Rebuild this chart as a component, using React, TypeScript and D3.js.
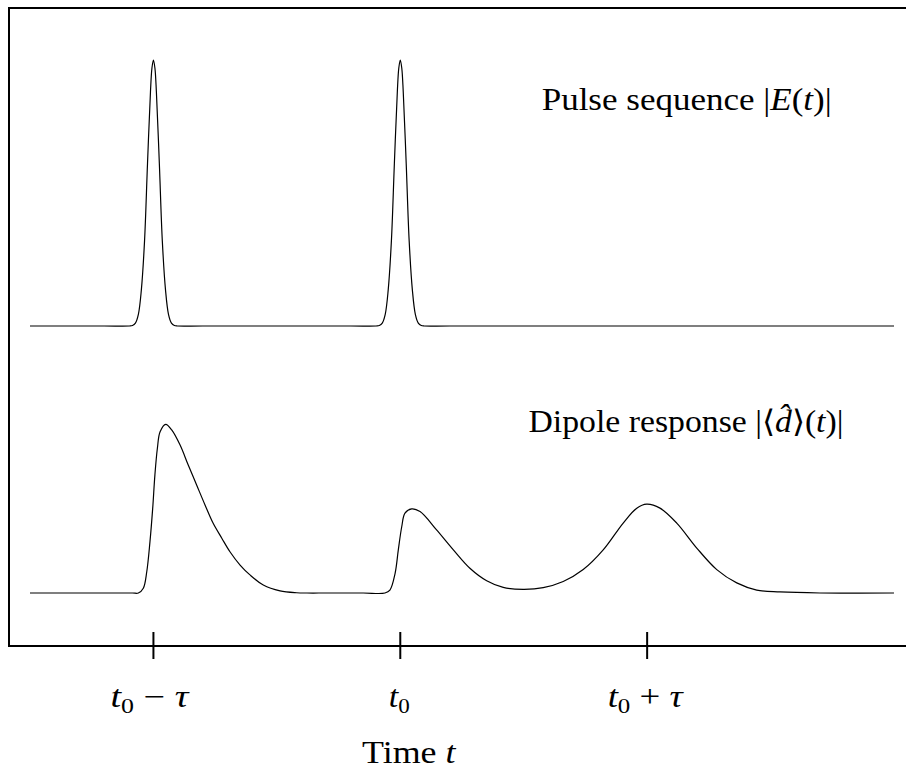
import React from "react";
import * as d3 from "d3";

// Time axis: tau = 1, t0 = 0
const tickValues = [-1, 0, 1];
const tickLabels = [
  { main: "t", sub: "0", rest: " − ", greek: "τ" },
  { main: "t", sub: "0", rest: "", greek: "" },
  { main: "t", sub: "0", rest: " + ", greek: "τ" },
];

// Pulse sequence |E(t)| (two identical short pulses)
const pulseT = [
  -1.5, -1.2, -1.097, -1.085, -1.073, -1.061, -1.049, -1.036, -1.024, -1.012, -1.006, -1.0,
  -0.994, -0.988, -0.976, -0.964, -0.951, -0.939, -0.927, -0.915, -0.903, -0.8,
  -0.2, -0.097, -0.085, -0.073, -0.061, -0.049, -0.036, -0.024, -0.012, -0.006, 0.0,
  0.006, 0.012, 0.024, 0.036, 0.049, 0.061, 0.073, 0.085, 0.097, 0.2, 2.0,
];
const pulseE = [
  0, 0, 0, 0.002, 0.011, 0.044, 0.135, 0.32, 0.61, 0.88, 0.97, 1,
  0.97, 0.88, 0.61, 0.32, 0.135, 0.044, 0.011, 0.002, 0, 0,
  0, 0, 0.002, 0.011, 0.044, 0.135, 0.32, 0.61, 0.88, 0.97, 1,
  0.97, 0.88, 0.61, 0.32, 0.135, 0.044, 0.011, 0.002, 0, 0, 0,
];

// Dipole response |<d>(t)|
const dipoleT = [
  -1.5, -1.2, -1.085, -1.061, -1.041, -1.027, -1.014, -1.003, -0.994, -0.984, -0.973,
  -0.95, -0.926, -0.892, -0.859, -0.825, -0.791, -0.758, -0.723, -0.69, -0.649,
  -0.609, -0.555, -0.487, -0.42, -0.378, -0.3,
  -0.15, -0.062, -0.042, -0.021, -0.008, 0.006, 0.019, 0.046, 0.08, 0.147, 0.215, 0.282,
  0.35, 0.417, 0.498, 0.579, 0.66, 0.741, 0.822, 0.903, 0.958, 0.998, 1.052,
  1.12, 1.201, 1.282, 1.363, 1.444, 1.538, 1.7, 2.0,
];
const dipoleD = [
  0, 0, 0, 0, 0.018, 0.08, 0.193, 0.318, 0.444, 0.544, 0.606,
  0.634, 0.613, 0.556, 0.481, 0.406, 0.331, 0.262, 0.206, 0.155, 0.105,
  0.068, 0.03, 0.008, 0.001, 0, 0,
  0, 0, 0.011, 0.074, 0.162, 0.25, 0.3, 0.316, 0.306, 0.237, 0.162, 0.093,
  0.046, 0.021, 0.014, 0.02, 0.043, 0.088, 0.162, 0.263, 0.319, 0.334, 0.319,
  0.263, 0.169, 0.088, 0.038, 0.011, 0.004, 0, 0,
];

const FONT = "Liberation Serif, serif";

export default function App() {
  const W = 906;
  const H = 773;
  const x = d3.scaleLinear().domain([-1.5, 2.0]).range([30, 894]);
  const yTop = d3.scaleLinear().domain([0, 1]).range([326, 60]);
  const yBot = d3.scaleLinear().domain([0, 1]).range([593, 327]);

  const pulseLine = d3
    .line<number>()
    .x((_, i) => x(pulseT[i]))
    .y((v) => yTop(v))
    .curve(d3.curveCatmullRom.alpha(0.5));
  const dipoleLine = d3
    .line<number>()
    .x((_, i) => x(dipoleT[i]))
    .y((v) => yBot(v))
    .curve(d3.curveCatmullRom.alpha(0.5));

  const axisY = 646;
  const labelOffsets = [-4, -1, -2];
  const labelWidths = [78, 21, 75];

  return (
    <svg
      width={W}
      height={H}
      style={{ position: "absolute", left: 0, top: 0, background: "#fff" }}
    >
      <rect x={0} y={0} width={W} height={H} fill="#fff" />
      {/* frame */}
      <line x1={9} y1={8} x2={906} y2={8} stroke="#000" strokeWidth={2} />
      <line x1={9} y1={7} x2={9} y2={647} stroke="#000" strokeWidth={2} />
      <line x1={8} y1={axisY} x2={906} y2={axisY} stroke="#000" strokeWidth={2} />
      {/* ticks */}
      {tickValues.map((t, i) => (
        <line
          key={"tk" + i}
          x1={x(t)}
          x2={x(t)}
          y1={632}
          y2={659}
          stroke="#000"
          strokeWidth={2}
        />
      ))}
      {/* curves */}
      <path d={pulseLine(pulseE) || ""} fill="none" stroke="#000" strokeWidth={1.2} />
      <path d={dipoleLine(dipoleD) || ""} fill="none" stroke="#000" strokeWidth={1.2} />

      {/* annotations */}
      <text
        x={541.7}
        y={110}
        fontFamily={FONT}
        fontSize={31}
        textLength={290}
        lengthAdjust="spacingAndGlyphs"
      >
        Pulse sequence |<tspan fontStyle="italic">E</tspan>(<tspan fontStyle="italic">t</tspan>)|
      </text>
      <text
        x={528.5}
        y={432}
        fontFamily={FONT}
        fontSize={31}
        textLength={315}
        lengthAdjust="spacingAndGlyphs"
      >
        Dipole response |⟨<tspan fontStyle="italic">d̂</tspan>⟩(<tspan fontStyle="italic">t</tspan>)|
      </text>

      {/* tick labels */}
      {tickLabels.map((lb, i) => (
        <text
          key={"lb" + i}
          x={x(tickValues[i]) + labelOffsets[i]}
          y={707}
          fontFamily={FONT}
          fontSize={31}
          textAnchor="middle"
          textLength={labelWidths[i]}
          lengthAdjust="spacingAndGlyphs"
        >
          <tspan fontStyle="italic">{lb.main}</tspan>
          <tspan fontSize={21} dy={6}>
            {lb.sub}
          </tspan>
          {lb.rest ? (
            <tspan dy={-6}>
              {lb.rest}
              <tspan fontStyle="italic">{lb.greek}</tspan>
            </tspan>
          ) : null}
        </text>
      ))}

      {/* axis title */}
      <text
        x={362}
        y={763}
        fontFamily={FONT}
        fontSize={31}
        textLength={93.5}
        lengthAdjust="spacingAndGlyphs"
      >
        Time <tspan fontStyle="italic">t</tspan>
      </text>
    </svg>
  );
}
